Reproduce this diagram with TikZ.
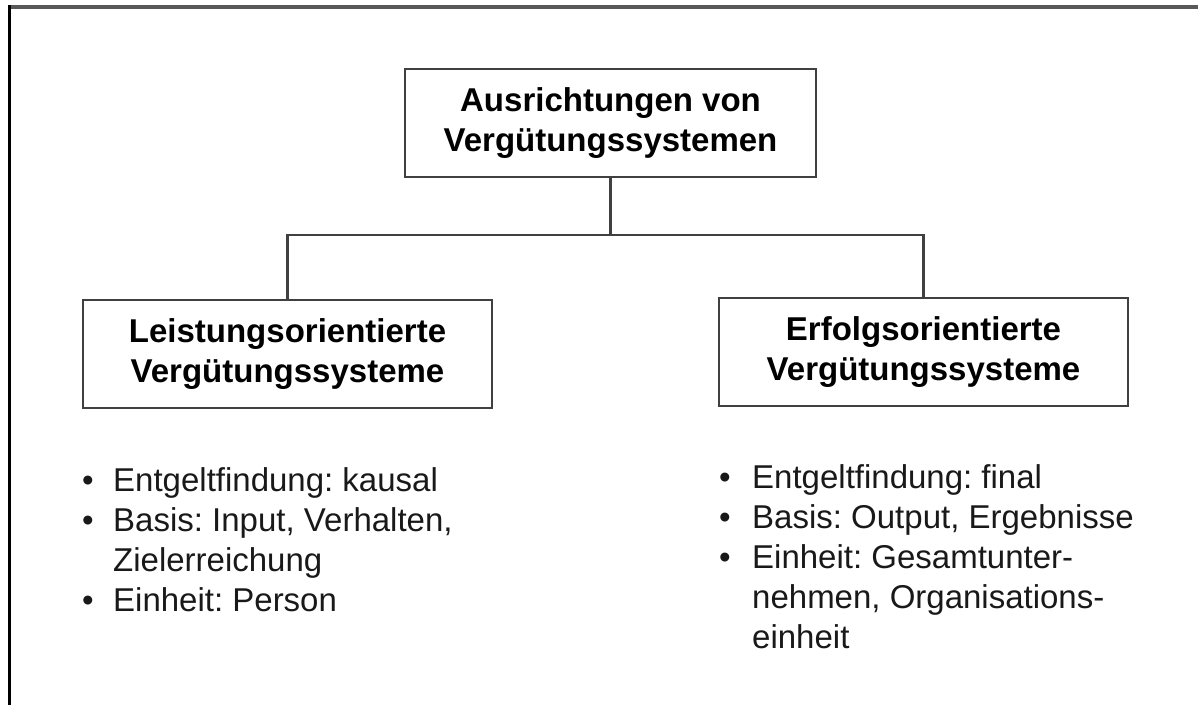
\documentclass[tikz,border=0pt]{standalone}
\usepackage{fontspec}
\setmainfont{Liberation Sans}
\frenchspacing
\begin{document}
\begin{tikzpicture}[x=1pt,y=-1pt,
  box/.style={draw=black!75, line width=2.5pt, minimum height=108pt, align=center,
    font=\fontsize{33}{40}\selectfont\bfseries, inner sep=0pt},
  conn/.style={draw=black!75, line width=2.5pt},
  item/.style={anchor=base west, inner sep=0pt, font=\fontsize{33}{40}\selectfont, text=black!90},
  dot/.style={anchor=base, inner sep=0pt, font=\fontsize{33}{40}\selectfont, text=black!90}]
\useasboundingbox (0,0) rectangle (1198,705);
% frame
\draw[line width=4pt, black!65] (8,7) -- (1198,7);
\draw[line width=3pt, black] (9.5,5) -- (9.5,705);
% boxes
\node[box, minimum width=411pt] (top) at (610.5,123) {Ausrichtungen von\\Vergütungssystemen};
\node[box, minimum width=409pt] (left) at (287.5,354) {Leistungsorientierte\\Vergütungssysteme};
\node[box, minimum width=409pt] (right) at (923.5,352) {Erfolgsorientierte\\Vergütungssysteme};
% connectors
\coordinate (j) at (610.5,235);
\draw[conn] (top.south) -- (j);
\draw[conn] (left.north) |- (j);
\draw[conn] (right.north) |- (j);
% left list
\node[dot] (lb1) at (88,491) {•};
\node[item] (lt1) at (113,491) {Entgeltfindung: kausal};
\node[dot] (lb2) at (88,531) {•};
\node[item] (lt2) at (113,531) {Basis: Input, Verhalten,};
\node[item] (lt3) at (113,571) {Zielerreichung};
\node[dot] (lb4) at (88,611) {•};
\node[item] (lt4) at (113,611) {Einheit: Person};
% right list
\node[dot] (rb1) at (725,488) {•};
\node[item] (rt1) at (752,488) {Entgeltfindung: final};
\node[dot] (rb2) at (725,528) {•};
\node[item] (rt2) at (752,528) {Basis: Output, Ergebnisse};
\node[dot] (rb3) at (725,568) {•};
\node[item] (rt3) at (752,568) {Einheit: Gesamtunter-};
\node[item] (rt4) at (752,608) {nehmen, Organisations-};
\node[item] (rt5) at (752,648) {einheit};
\end{tikzpicture}
\end{document}
